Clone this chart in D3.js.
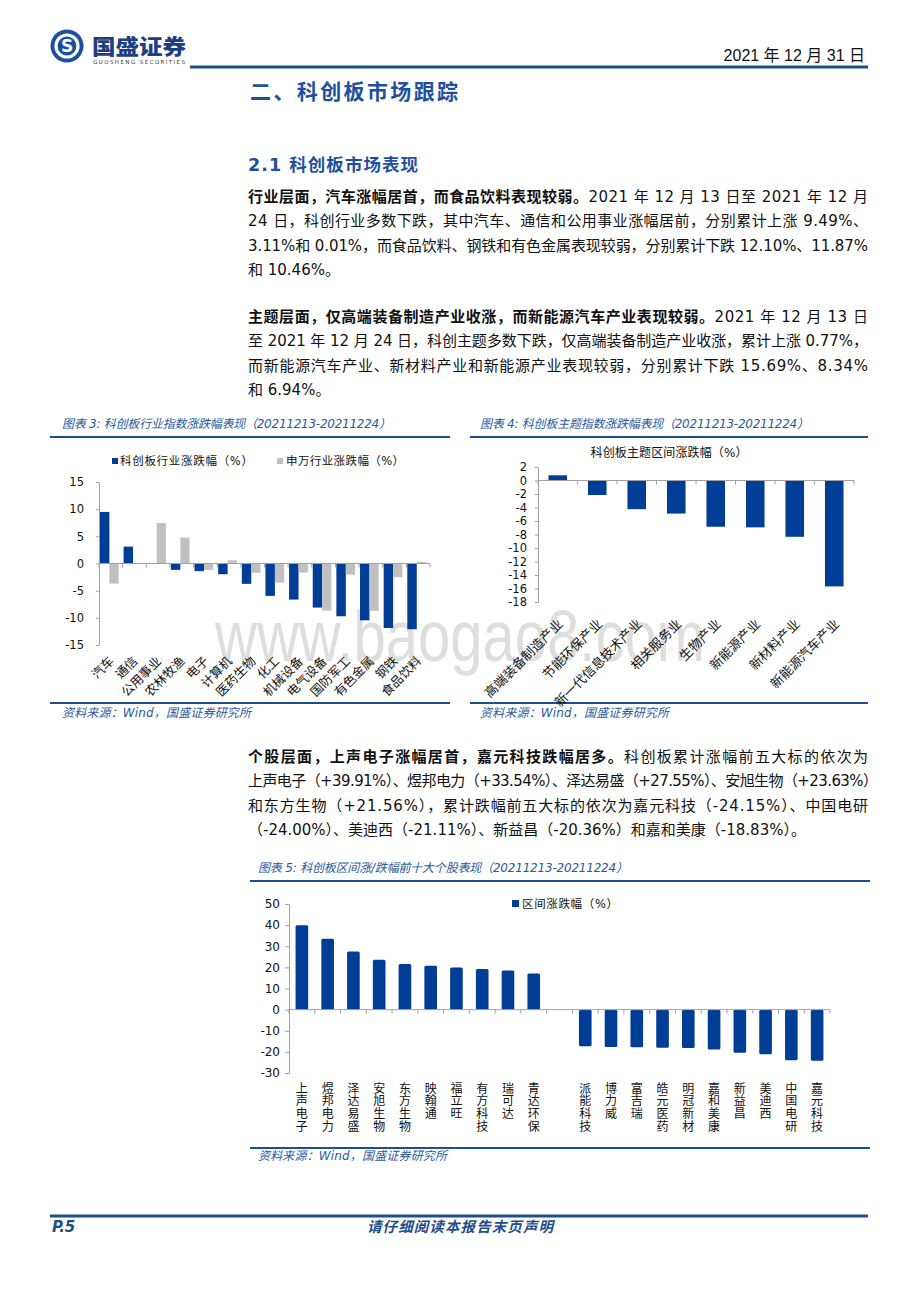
<!DOCTYPE html>
<html><head><meta charset="utf-8">
<script src="https://cdn.jsdelivr.net/npm/d3@7"></script>
<style>body{margin:0;background:#fff}svg{display:block}</style>
</head><body>
<svg id="page" width="920" height="1302"></svg>
<script>
// ---------- DATA ----------
const industryCats = ["汽车","通信","公用事业","农林牧渔","电子","计算机","医药生物","化工","机械设备","电气设备","国防军工","有色金属","钢铁","食品饮料"];
const kcbIndustry = [9.49,3.11,0.01,-1.17,-1.41,-1.97,-3.75,-5.96,-6.64,-8.11,-9.71,-10.46,-11.87,-12.10];
const swIndustry  = [-3.69,0.02,7.45,4.75,-1.17,0.6,-1.72,-3.5,-1.66,-8.67,-2.03,-8.73,-2.52,0.3];
const industryTicks = [-15,-10,-5,0,5,10,15];
const industryLegend = ["科创板行业涨跌幅（%）","申万行业涨跌幅（%）"];

const themeCats = ["高端装备制造产业","节能环保产业","新一代信息技术产业","相关服务业","生物产业","新能源产业","新材料产业","新能源汽车产业"];
const themeVals = [0.77,-2.15,-4.25,-4.9,-6.85,-6.94,-8.34,-15.69];
const themeTicks = [2,0,-2,-4,-6,-8,-10,-12,-14,-16,-18];
const themeTitle = "科创板主题区间涨跌幅（%）";

const stockNames = ["上声电子","煜邦电力","泽达易盛","安旭生物","东方生物","映翰通","福立旺","有方科技","瑞可达","青达环保","","派能科技","博力威","富吉瑞","皓元医药","明冠新材","嘉和美康","新益昌","美迪西","中国电研","嘉元科技"];
const stockVals = [39.91,33.54,27.55,23.63,21.56,20.8,19.98,19.2,18.55,17.1,null,-17.36,-17.68,-17.84,-18.0,-18.16,-18.83,-20.36,-21.11,-24.00,-24.15];
const stockTicks = [50,40,30,20,10,0,-10,-20,-30];
const stockLegend = "区间涨跌幅（%）";

// ---------- STYLE ----------
const BLUE = "#003d96", GRAY = "#c0c0c0", DARK = "#1f4e8c", TBLUE = "#2a5aa0", AXIS = "#a0a0a0";
const FONT = '"DejaVu Sans","Noto Sans CJK SC",sans-serif';
const CJK = '"Noto Sans CJK SC",sans-serif';

const svg = d3.select("#page");
svg.append("rect").attr("width",920).attr("height",1302).attr("fill","#fff");

// watermark (behind)
svg.append("text").attr("x",215).attr("y",661).attr("font-family",'"Liberation Sans",Arial,sans-serif')
  .attr("font-size",72).attr("fill","#dedede").attr("textLength",490).attr("lengthAdjust","spacingAndGlyphs")
  .text("www.baogao8.com");

// ---------- HEADER ----------
svg.append("circle").attr("cx",67).attr("cy",46).attr("r",16.5).attr("fill","#1d4f9e");
svg.append("circle").attr("cx",67).attr("cy",46).attr("r",11).attr("fill","none").attr("stroke","#fff").attr("stroke-width",3.2);
svg.append("text").attr("x",67).attr("y",46).attr("dy","0.36em").attr("text-anchor","middle")
  .attr("font-family",'"DejaVu Sans",sans-serif').attr("font-weight",700).attr("font-size",17).attr("fill","#fff").text("S");
svg.append("text").attr("x",92).attr("y",54).attr("font-family",CJK).attr("font-weight",900).attr("font-size",21)
  .attr("fill","#1c3f82").attr("textLength",94).attr("lengthAdjust","spacingAndGlyphs").text("国盛证券");
svg.append("text").attr("x",93).attr("y",64).attr("font-family",'"DejaVu Sans",sans-serif').attr("font-size",5.5)
  .attr("fill","#333").attr("textLength",92).attr("lengthAdjust","spacing").text("GUOSHENG SECURITIES");
svg.append("text").attr("x",865).attr("y",61).attr("text-anchor","end")
  .attr("font-family",'"Liberation Sans Narrow","Liberation Sans","Noto Sans CJK SC",sans-serif').attr("font-size",16).attr("fill","#111")
  .text("2021 年 12 月 31 日");
svg.append("line").attr("x1",190).attr("x2",868).attr("y1",67).attr("y2",67).attr("stroke","#1f4e8c").attr("stroke-width",3);

svg.append("text").attr("x",250).attr("y",99).attr("font-family",CJK).attr("font-weight",700).attr("font-size",21)
  .attr("fill","#1f50a0").attr("textLength",208).attr("lengthAdjust","spacing").text("二、科创板市场跟踪");
svg.append("text").attr("x",248).attr("y",171).attr("font-family",FONT).attr("font-weight",700).attr("font-size",17.5)
  .attr("fill","#1f50a0").attr("textLength",170).attr("lengthAdjust","spacing").text("2.1  科创板市场表现");

// ---------- BODY PARAGRAPHS ----------
const paras = [
  {y:202, lines:[
    [["b","行业层面，汽车涨幅居首，而食品饮料表现较弱。"],["r","2021 年 12 月 13 日至 2021 年 12 月"]],
    [["r","24 日，科创行业多数下跌，其中汽车、通信和公用事业涨幅居前，分别累计上涨 9.49%、"]],
    [["r","3.11%和 0.01%，而食品饮料、钢铁和有色金属表现较弱，分别累计下跌 12.10%、11.87%"]],
    [["r","和 10.46%。"]]]},
  {y:322, lines:[
    [["b","主题层面，仅高端装备制造产业收涨，而新能源汽车产业表现较弱。"],["r","2021 年 12 月 13 日"]],
    [["r","至 2021 年 12 月 24 日，科创主题多数下跌，仅高端装备制造产业收涨，累计上涨 0.77%，"]],
    [["r","而新能源汽车产业、新材料产业和新能源产业表现较弱，分别累计下跌 15.69%、8.34%"]],
    [["r","和 6.94%。"]]]},
  {y:762, lines:[
    [["b","个股层面，上声电子涨幅居首，嘉元科技跌幅居多。"],["r","科创板累计涨幅前五大标的依次为"]],
    [["r","上声电子（+39.91%）、煜邦电力（+33.54%）、泽达易盛（+27.55%）、安旭生物（+23.63%）"]],
    [["r","和东方生物（+21.56%），累计跌幅前五大标的依次为嘉元科技（-24.15%）、中国电研"]],
    [["r","（-24.00%）、美迪西（-21.11%）、新益昌（-20.36%）和嘉和美康（-18.83%）。"]]]}
];
paras.forEach((p,pi)=>{
  p.lines.forEach((ln,i)=>{
    const t = svg.append("text").attr("x",248).attr("y",p.y+i*24.3).attr("font-family",FONT).attr("font-size",15).attr("fill","#111");
    ln.forEach(seg=>{
      t.append("tspan").attr("font-weight",seg[0]==="b"?700:400).attr("font-family",seg[0]==="b"?CJK:FONT).text(seg[1]);
    });
    if(i<3){ t.attr("textLength", (pi===2&&i===1)?630:620).attr("lengthAdjust","spacing"); }
  });
});

// ---------- helpers ----------
function chartFrame(x1,x2,titleX,titleY,lineY,srcLineY,srcY,title,titleLen){
  svg.append("text").attr("x",titleX).attr("y",titleY).attr("dy","0.35em").attr("font-family",FONT).attr("font-style","italic")
    .attr("font-size",12).attr("fill",TBLUE).attr("textLength",titleLen).attr("lengthAdjust","spacing").text(title);
  svg.append("line").attr("x1",x1).attr("x2",x2).attr("y1",lineY).attr("y2",lineY).attr("stroke",DARK).attr("stroke-width",2);
  svg.append("line").attr("x1",x1).attr("x2",x2).attr("y1",srcLineY).attr("y2",srcLineY).attr("stroke",DARK).attr("stroke-width",2);
  svg.append("text").attr("x",titleX).attr("y",srcY).attr("dy","0.35em").attr("font-family",FONT).attr("font-style","italic")
    .attr("font-size",12).attr("fill",TBLUE).attr("textLength",189).attr("lengthAdjust","spacing").text("资料来源：Wind，国盛证券研究所");
}
function yAxis(scale,ticks,x,size,pad,fs){
  const g = svg.append("g").attr("transform",`translate(${x},0)`)
    .call(d3.axisLeft(scale).tickValues(ticks).tickSize(size).tickSizeOuter(0).tickPadding(pad).tickFormat(d=>String(d)));
  g.select(".domain").attr("stroke",AXIS);
  g.selectAll(".tick line").attr("stroke",AXIS);
  g.selectAll(".tick text").attr("font-family",'"DejaVu Sans",sans-serif').attr("font-size",fs).attr("fill","#111");
  return g;
}
function zeroAxis(xs,y0,n){
  const [a,b] = xs.range();
  svg.append("line").attr("x1",a).attr("x2",b).attr("y1",y0).attr("y2",y0).attr("stroke",AXIS);
  const edges = d3.range(n+1).map(i=>a+i*xs.step());
  svg.append("g").selectAll("line").data(edges).join("line")
    .attr("x1",d=>d).attr("x2",d=>d).attr("y1",y0).attr("y2",y0+4).attr("stroke",AXIS);
}

// ---------- CHART 3 ----------
chartFrame(50,450,62,424,437,703,713,"图表 3:  科创板行业指数涨跌幅表现（20211213-20211224）",329);
{
  const x = d3.scaleBand().domain(industryCats).range([99,430]);
  const y = d3.scaleLinear().domain([-15,15]).range([645,482]);
  const bw = x.bandwidth();
  svg.append("g").selectAll("rect").data(industryCats).join("rect")
    .attr("x",d=>x(d)+bw*0.04).attr("width",bw*0.40)
    .attr("y",(d,i)=>y(Math.max(0,kcbIndustry[i]))).attr("height",(d,i)=>Math.abs(y(kcbIndustry[i])-y(0)))
    .attr("fill",BLUE);
  svg.append("g").selectAll("rect").data(industryCats).join("rect")
    .attr("x",d=>x(d)+bw*0.44).attr("width",bw*0.39)
    .attr("y",(d,i)=>y(Math.max(0,swIndustry[i]))).attr("height",(d,i)=>Math.abs(y(swIndustry[i])-y(0)))
    .attr("fill",GRAY);
  yAxis(y,industryTicks,99,3,12,11.5);
  zeroAxis(x,y(0),industryCats.length);
  svg.append("g").selectAll("text").data(industryCats).join("text")
    .attr("transform",d=>`translate(${x(d)+bw/2},658) rotate(-45)`)
    .attr("text-anchor","end").attr("dominant-baseline","central")
    .attr("font-family",CJK).attr("font-size",12.5).attr("fill","#111").text(d=>d);
  // legend
  svg.append("rect").attr("x",112).attr("y",458).attr("width",6).attr("height",6).attr("fill",BLUE);
  svg.append("text").attr("x",120).attr("y",461).attr("dy","0.35em").attr("font-family",FONT).attr("font-size",11.5)
    .attr("fill","#111").attr("textLength",133).attr("lengthAdjust","spacing").text(industryLegend[0]);
  svg.append("rect").attr("x",277).attr("y",458).attr("width",6).attr("height",6).attr("fill",GRAY);
  svg.append("text").attr("x",286).attr("y",461).attr("dy","0.35em").attr("font-family",FONT).attr("font-size",11.5)
    .attr("fill","#111").attr("textLength",118).attr("lengthAdjust","spacing").text(industryLegend[1]);
}

// ---------- CHART 4 ----------
chartFrame(470,868,480,424,437,703,713,"图表 4:  科创板主题指数涨跌幅表现（20211213-20211224）",329);
{
  const x = d3.scaleBand().domain(themeCats).range([538,854]);
  const y = d3.scaleLinear().domain([-18,2]).range([602,467]);
  const bw = x.bandwidth();
  svg.append("g").selectAll("rect").data(themeCats).join("rect")
    .attr("x",d=>x(d)+bw*0.265).attr("width",bw*0.47)
    .attr("y",(d,i)=>y(Math.max(0,themeVals[i]))).attr("height",(d,i)=>Math.abs(y(themeVals[i])-y(0)))
    .attr("fill",BLUE);
  yAxis(y,themeTicks,538,3,8,11.5);
  zeroAxis(x,y(0),themeCats.length);
  svg.append("g").selectAll("text").data(themeCats).join("text")
    .attr("transform",d=>`translate(${x(d)+bw/2+2},621) rotate(-45)`)
    .attr("text-anchor","end").attr("dominant-baseline","central")
    .attr("font-family",CJK).attr("font-size",13).attr("fill","#111").text(d=>d);
  svg.append("text").attr("x",669).attr("y",453).attr("dy","0.35em").attr("text-anchor","middle")
    .attr("font-family",FONT).attr("font-size",12).attr("fill","#111")
    .attr("textLength",157).attr("lengthAdjust","spacing").text(themeTitle);
}

// ---------- CHART 5 ----------
chartFrame(250,870,258,868,881,1148,1156,"图表 5:  科创板区间涨/跌幅前十大个股表现（20211213-20211224）",370);
{
  const idx = d3.range(stockNames.length);
  const x = d3.scaleBand().domain(idx).range([289,830]);
  const y = d3.scaleLinear().domain([-30,50]).range([1073,904]);
  const bw = x.bandwidth();
  svg.append("g").selectAll("rect").data(idx.filter(i=>stockVals[i]!==null)).join("rect")
    .attr("x",i=>x(i)+bw*0.255).attr("width",bw*0.49)
    .attr("y",i=>y(Math.max(0,stockVals[i]))).attr("height",i=>Math.abs(y(stockVals[i])-y(0)))
    .attr("rx",1.5).attr("fill",BLUE);
  yAxis(y,stockTicks,289,4,5,12);
  zeroAxis(x,y(0),idx.length);
  const lab = svg.append("g").selectAll("text").data(idx).join("text")
    .attr("font-family",CJK).attr("font-size",12).attr("fill","#111").attr("text-anchor","middle");
  lab.each(function(i){
    const t = d3.select(this);
    Array.from(stockNames[i]).forEach((ch,k)=>{
      t.append("tspan").attr("x",x(i)+bw/2).attr("y",1087+k*12.7).attr("dominant-baseline","central").text(ch);
    });
  });
  svg.append("rect").attr("x",512).attr("y",900).attr("width",7).attr("height",7).attr("fill",BLUE);
  svg.append("text").attr("x",522).attr("y",904).attr("dy","0.35em").attr("font-family",FONT).attr("font-size",11.5)
    .attr("fill","#111").attr("textLength",96).attr("lengthAdjust","spacing").text(stockLegend);
}

// ---------- FOOTER ----------
svg.append("line").attr("x1",50).attr("x2",868).attr("y1",1216).attr("y2",1216).attr("stroke",DARK).attr("stroke-width",3);
svg.append("text").attr("x",52).attr("y",1232).attr("font-family",'"DejaVu Sans",sans-serif').attr("font-weight",700)
  .attr("font-style","italic").attr("font-size",15).attr("fill",DARK).text("P.5");
svg.append("text").attr("x",460).attr("y",1232).attr("text-anchor","middle").attr("font-family",CJK).attr("font-weight",700)
  .attr("font-style","italic").attr("font-size",14.5).attr("fill",DARK).attr("textLength",186).attr("lengthAdjust","spacing")
  .text("请仔细阅读本报告末页声明");
</script>
</body></html>
